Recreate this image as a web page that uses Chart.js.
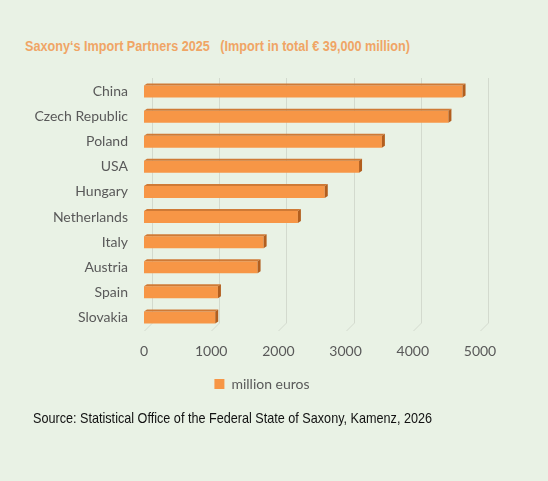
<!DOCTYPE html>
<html>
<head>
<meta charset="utf-8">
<script src="https://cdn.jsdelivr.net/npm/chart.js@4.4.1/dist/chart.umd.min.js"></script>
<style>
  html, body { margin: 0; padding: 0; }
  body { width: 548px; height: 481px; background: #E9F2E5; position: relative; overflow: hidden; }
  #wrap { position: absolute; left: 0; top: 0; width: 548px; height: 481px; }
  .txt { position: absolute; white-space: nowrap; transform-origin: 0 50%; line-height: 1; }
  #title { left: 25px; top: 38px; font: bold 14px "Liberation Sans", Arial, sans-serif; color: #F0A565; }
  #source { left: 33px; top: 409px; font: 15px "Liberation Sans", Arial, sans-serif; color: #111; }
</style>
</head>
<body>
<div id="title" class="txt" data-w="385">Saxony‘s Import Partners 2025&nbsp;&nbsp;&nbsp;(Import in total € 39,000 million)</div>
<div id="wrap"><canvas id="c" width="548" height="481"></canvas></div>
<div id="source" class="txt" data-w="399">Source: Statistical Office of the Federal State of Saxony, Kamenz, 2026</div>
<script>
const categories = ["China", "Czech Republic", "Poland", "USA", "Hungary", "Netherlands", "Italy", "Austria", "Spain", "Slovakia"];
const importValues = [4740, 4530, 3540, 3200, 2690, 2290, 1780, 1690, 1100, 1060];
const seriesLabel = "million euros";
const xTicks = [0, 1000, 2000, 3000, 4000, 5000];
const xTickLabels = ["0", "1000", "2000", "3000", "4000", "5000"];

document.querySelectorAll('.txt').forEach(el => {
  const w = el.getBoundingClientRect().width;
  const target = +el.dataset.w;
  el.style.transform = 'scaleX(' + (target / w) + ')';
});

const depthPlugin = {
  id: 'depth',
  beforeDatasetsDraw(chart) {
    const { ctx, chartArea, scales } = chart;
    const x = scales.x;
    ctx.save();
    ctx.strokeStyle = '#D3DACE';
    ctx.lineWidth = 1;
    xTicks.forEach(v => {
      const px = Math.round(x.getPixelForValue(v)) + 0.5;
      ctx.beginPath();
      ctx.moveTo(px + 8, chartArea.top - 1);
      ctx.lineTo(px + 8, chartArea.bottom - 7);
      ctx.lineTo(px, chartArea.bottom + 1);
      ctx.stroke();
    });
    ctx.restore();
  },
  afterDatasetsDraw(chart) {
    const { ctx } = chart;
    const meta = chart.getDatasetMeta(0);
    ctx.save();
    meta.data.forEach(bar => {
      const p = bar.getProps(['x', 'y', 'base', 'height'], true);
      const top = p.y - p.height / 2;
      const bottom = p.y + p.height / 2;
      const d = 3, e = 2;
      ctx.fillStyle = '#CF7A36';
      ctx.beginPath();
      ctx.moveTo(p.base, top);
      ctx.lineTo(p.x, top);
      ctx.lineTo(p.x + d, top - e);
      ctx.lineTo(p.base + d, top - e);
      ctx.closePath();
      ctx.fill();
      ctx.fillStyle = '#B25E1E';
      ctx.beginPath();
      ctx.moveTo(p.x, top);
      ctx.lineTo(p.x + d, top - e);
      ctx.lineTo(p.x + d, bottom - e);
      ctx.lineTo(p.x, bottom);
      ctx.closePath();
      ctx.fill();
    });
    ctx.restore();
  }
};

new Chart(document.getElementById('c'), {
  type: 'bar',
  data: {
    labels: categories,
    datasets: [{
      label: seriesLabel,
      data: importValues,
      backgroundColor: '#F79646',
      borderWidth: 0,
      barPercentage: 0.48,
      categoryPercentage: 1
    }]
  },
  options: {
    indexAxis: 'y',
    responsive: false,
    animation: false,
    devicePixelRatio: 1,
    layout: { padding: { top: 79, left: 28, right: 52, bottom: 80 } },
    scales: {
      x: {
        min: 0, max: 5000,
        afterBuildTicks(scale) { scale.ticks = xTicks.map(v => ({ value: v })); },
        afterFit(scale) { scale.height = 37; },
        grid: { display: false, drawTicks: false },
        border: { display: false },
        ticks: {
          padding: 13, color: '#595959', font: { family: 'Lato', size: 14 },
          callback(value, index) { return xTickLabels[index]; }
        }
      },
      y: {
        afterFit(scale) { scale.width = 116; },
        grid: { display: false, drawTicks: false },
        border: { display: false },
        ticks: { padding: 16, color: '#595959', font: { family: 'Lato', size: 14 } }
      },
      y2: {
        type: 'linear',
        position: 'right',
        display: true,
        afterFit(scale) { scale.width = 16; },
        grid: { display: false, drawTicks: false },
        border: { display: false },
        ticks: { display: false }
      }
    },
    plugins: {
      legend: {
        position: 'bottom',
        labels: { boxWidth: 10, boxHeight: 10, padding: 10, color: '#595959', font: { family: 'Lato', size: 14 } }
      },
      tooltip: { enabled: false },
      title: { display: false }
    }
  },
  plugins: [depthPlugin]
});
</script>
</body>
</html>
